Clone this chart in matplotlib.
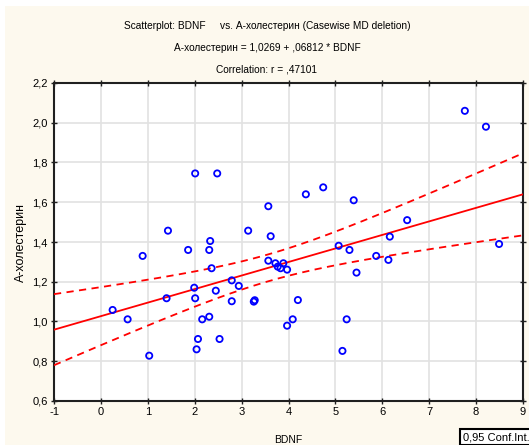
import numpy as np
import matplotlib
matplotlib.use("Agg")
import matplotlib.pyplot as plt
from matplotlib.ticker import FuncFormatter, MultipleLocator
from matplotlib.patches import Rectangle

# ---- data ----
bdnf = [7.76, 8.21, 2.01, 2.48, 4.37, 4.74, 5.39, 3.57, 1.43, 3.14,
        3.62, 6.53, 2.33, 1.86, 2.31, 0.89, 6.16, 5.07, 5.30, 5.87,
        8.49, 6.13, 2.36, 3.57, 3.72, 3.77, 3.83, 3.89, 3.97, 2.79,
        2.94, 1.99, 2.45, 1.40, 2.01, 2.79, 3.26, 3.28, 4.20, 0.25,
        0.57, 2.16, 2.31, 4.09, 3.97, 2.07, 2.53, 2.04, 1.03, 5.45,
        5.24, 5.15]
chol = [2.06, 1.98, 1.745, 1.745, 1.64, 1.675, 1.61, 1.58, 1.457, 1.457,
        1.429, 1.51, 1.405, 1.36, 1.36, 1.33, 1.427, 1.381, 1.36, 1.33,
        1.39, 1.31, 1.268, 1.306, 1.293, 1.276, 1.268, 1.293, 1.261, 1.207,
        1.179, 1.170, 1.155, 1.117, 1.117, 1.102, 1.10, 1.107, 1.108, 1.058,
        1.011, 1.011, 1.024, 1.011, 0.979, 0.912, 0.912, 0.860, 0.828, 1.246,
        1.011, 0.852]
intercept = 1.0269
slope = 0.06812
conf_level = 0.95
t_crit = 2.0086  # t(0.975, df=50)

title_lines = ["Scatterplot: BDNF     vs. А-холестерин (Casewise MD deletion)",
               "А-холестерин = 1,0269 + ,06812 * BDNF",
               "Correlation: r = ,47101"]
x_label = "BDNF"
y_label = "А-холестерин"
legend_text = "0,95 Conf.Int."

plt.rcParams['font.family'] = ['Liberation Sans', 'DejaVu Sans']

W, H = 529, 445
fig = plt.figure(figsize=(W / 100, H / 100), dpi=100)
fig.patch.set_facecolor('white')
fig.patches.append(Rectangle((5 / W, 0), 1 - 5 / W, 1 - 6 / H, transform=fig.transFigure,
                             facecolor='#fdf9ee', edgecolor='none', zorder=-10))

ax = fig.add_axes([54 / W, (H - 401) / H, (523 - 54) / W, (401 - 83) / H])
ax.set_facecolor('white')

x = np.array(bdnf)
y = np.array(chol)
n = len(x)
xs = np.linspace(-1, 9, 200)
yfit = intercept + slope * xs
resid = y - (intercept + slope * x)
s = np.sqrt(np.sum(resid ** 2) / (n - 2))
sxx = np.sum((x - x.mean()) ** 2)
half = t_crit * s * np.sqrt(1 / n + (xs - x.mean()) ** 2 / sxx)

ax.plot(xs, yfit, color='#ff0000', lw=1.3, zorder=3)
ax.plot(xs, yfit + half, color='#ff0000', lw=1.3, dashes=(4, 3), zorder=3)
ax.plot(xs, yfit - half, color='#ff0000', lw=1.3, dashes=(4, 3), zorder=3)
ax.scatter(x, y, s=20, facecolors='none', edgecolors='#0000ff', linewidths=1.3, zorder=4)

ax.set_xlim(-1, 9)
ax.set_ylim(0.6, 2.2)
ax.xaxis.set_major_locator(MultipleLocator(1))
ax.yaxis.set_major_locator(MultipleLocator(0.2))
ax.xaxis.set_major_formatter(FuncFormatter(lambda v, p: f"{v:.0f}".replace('−', '-')))
ax.yaxis.set_major_formatter(FuncFormatter(lambda v, p: f"{v:.1f}".replace('.', ',')))
ax.grid(True, color='#e2e2e2', lw=1.2, zorder=0)
ax.set_axisbelow(True)
for sp in ax.spines.values():
    sp.set_color('#202020')
    sp.set_linewidth(1.5)
ax.tick_params(direction='inout', length=5, width=1, color='#202020',
               top=True, right=True, labelsize=8, pad=2)

ax.set_xlabel(x_label, fontsize=7.5, labelpad=13)
ax.set_ylabel(y_label, fontsize=9, labelpad=4)

ys = [26, 48, 69]
for t, yy in zip(title_lines, ys):
    fig.text(267 / W, 1 - yy / H, t, ha='center', va='center', fontsize=7.3)

fig.text(463 / W, 1 - 437 / H, legend_text, ha='left', va='center', fontsize=8,
         bbox=dict(boxstyle='square,pad=0.25', facecolor='white', edgecolor='black', lw=1.5))

fig.savefig('out.png', dpi=100, facecolor=fig.get_facecolor())
